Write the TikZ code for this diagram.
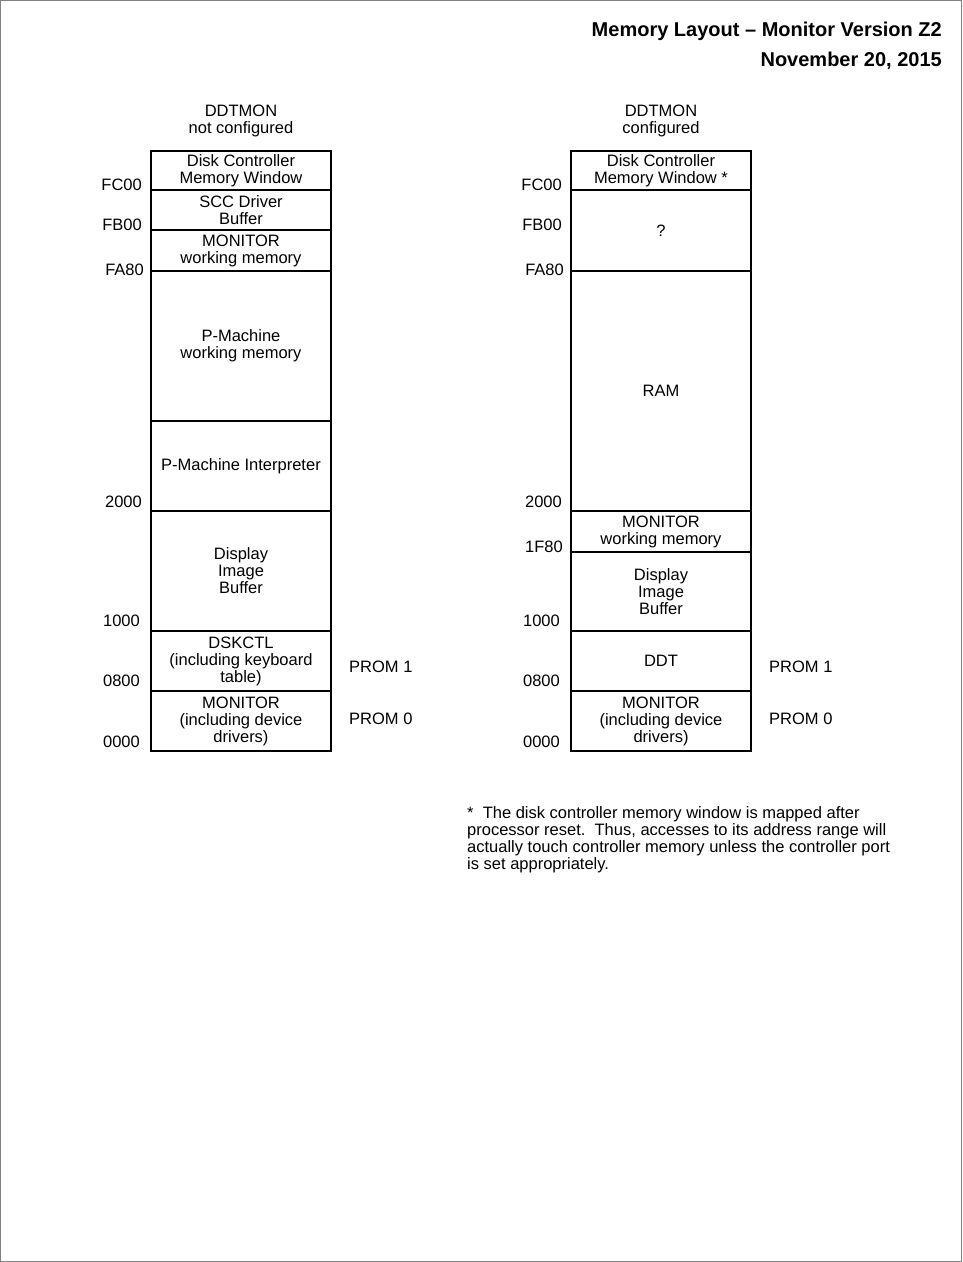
\documentclass[tikz,border=0pt]{standalone}
\usepackage{fontspec}
\setmainfont{Liberation Sans}
\begin{document}
\begin{tikzpicture}[x=1pt, y=-1pt,
  region/.style={draw, line width=1.2pt, minimum width=180pt, inner sep=0pt, align=center,
    font=\fontsize{16.5}{17}\selectfont},
  addr/.style={anchor=east, inner sep=0pt, font=\fontsize{16.5}{17}\selectfont},
  lbl/.style={inner sep=0pt, align=center, font=\fontsize{16.5}{17}\selectfont},
  heading/.style={anchor=east, inner sep=0pt, font=\fontsize{20}{22}\selectfont\bfseries}]
  \useasboundingbox (0,0) rectangle (962,1262);
  \draw[gray, line width=1pt] (0.5,0.5) rectangle (961,1261);

  % Title
  \node[heading] (title) at (942,31) {Memory Layout -- Monitor Version Z2};
  \node[heading] (date) at (942,61) {November 20, 2015};

  % Left column: DDTMON not configured
  \node[lbl] (lhead) at (241,120.5) {DDTMON\\not configured};
  \node[region, minimum height=39pt] (ldcw) at (241,170.5) {Disk Controller\\Memory Window};
  \node[region, minimum height=40pt] (lscc) at (241,210) {SCC Driver\\Buffer};
  \node[region, minimum height=41pt] (lmonw) at (241,250.5) {MONITOR\\working memory};
  \node[region, minimum height=150pt] (lpmw) at (241,346) {P-Machine\\working memory};
  \node[region, minimum height=90pt] (lpmi) at (241,466) {P-Machine Interpreter};
  \node[region, minimum height=120pt] (ldisp) at (241,571) {Display\\Image\\Buffer};
  \node[region, minimum height=60pt] (ldsk) at (241,661) {DSKCTL\\(including keyboard\\table)};
  \node[region, minimum height=60pt] (lmon) at (241,721) {MONITOR\\(including device\\drivers)};

  \node[addr] (lfc00) at (142,185) {FC00};
  \node[addr] (lfb00) at (142,225) {FB00};
  \node[addr] (lfa80) at (144,270) {FA80};
  \node[addr] (l2000) at (142,502) {2000};
  \node[addr] (l1000) at (140,621) {1000};
  \node[addr] (l0800) at (140,681) {0800};
  \node[addr] (l0000) at (140,742) {0000};
  \node[lbl, anchor=west] (lprom1) at (349,667) {PROM 1};
  \node[lbl, anchor=west] (lprom0) at (349,719) {PROM 0};

  % Right column: DDTMON configured
  \node[lbl] (rhead) at (661,120.5) {DDTMON\\configured};
  \node[region, minimum height=39pt] (rdcw) at (661,170.5) {Disk Controller\\Memory Window *};
  \node[region, minimum height=81pt] (rq) at (661,230.5) {?};
  \node[region, minimum height=240pt] (rram) at (661,391) {RAM};
  \node[region, minimum height=41pt] (rmonw) at (661,531.5) {MONITOR\\working memory};
  \node[region, minimum height=79pt] (rdisp) at (661,591.5) {Display\\Image\\Buffer};
  \node[region, minimum height=60pt] (rddt) at (661,661) {DDT};
  \node[region, minimum height=60pt] (rmon) at (661,721) {MONITOR\\(including device\\drivers)};

  \node[addr] (rfc00) at (562,185) {FC00};
  \node[addr] (rfb00) at (562,225) {FB00};
  \node[addr] (rfa80) at (564,270) {FA80};
  \node[addr] (r2000) at (562,502) {2000};
  \node[addr] (r1f80) at (563,547) {1F80};
  \node[addr] (r1000) at (560,621) {1000};
  \node[addr] (r0800) at (560,681) {0800};
  \node[addr] (r0000) at (560,742) {0000};
  \node[lbl, anchor=west] (rprom1) at (769,667) {PROM 1};
  \node[lbl, anchor=west] (rprom0) at (769,719) {PROM 0};

  % Footnote
  \node[lbl, align=left, anchor=north west] (note) at (467,806)
    {*\ \ The disk controller memory window is mapped after\\
     processor reset.\ \ Thus, accesses to its address range will\\
     actually touch controller memory unless the controller port\\
     is set appropriately.};
\end{tikzpicture}
\end{document}
